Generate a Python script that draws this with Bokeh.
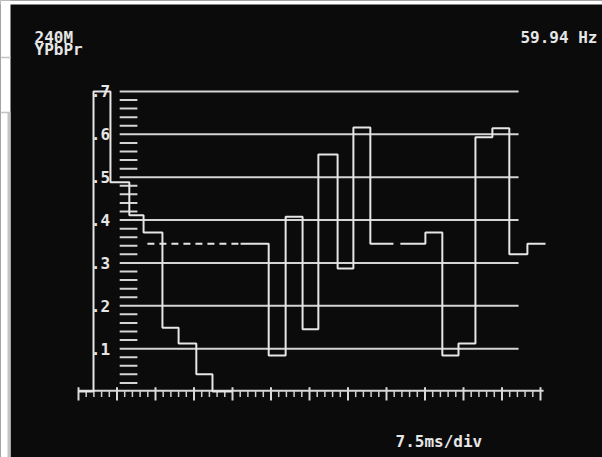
from bokeh.plotting import figure
from bokeh.models import Range1d
from bokeh.core.properties import value
from bokeh.embed import file_html
from bokeh.resources import INLINE

# ---------------- data (x in time divisions, y in volts) ----------------
grat_levels = [0.1, 0.2, 0.3, 0.4, 0.5, 0.6, 0.7]
grat_labels = [".1", ".2", ".3", ".4", ".5", ".6", ".7"]
minor_levels = [round(0.02 * i, 2) for i in range(1, 35) if i % 5 != 0]

# luma staircase: edges (divisions) and level after each edge
luma_edges = [0.39, 0.83, 1.32, 1.69, 2.18, 2.60, 3.06, 3.48]
luma_levels = [0.70, 0.488, 0.411, 0.371, 0.149, 0.112, 0.040, 0.0]

blank_level = 0.345
# Pb segment
pb_start, pb_end = 4.21, 8.18
pb_edges = [4.94, 5.38, 5.82, 6.23, 6.73, 7.14, 7.58]
pb_levels = [0.084, 0.408, 0.145, 0.553, 0.287, 0.616, 0.345]
# Pr segment
pr_start, pr_end = 8.36, 12.13
pr_edges = [9.01, 9.45, 9.87, 10.31, 10.75, 11.19, 11.66]
pr_levels = [0.371, 0.084, 0.112, 0.593, 0.614, 0.320, 0.345]

dash_start, dash_end = 1.79, 4.21

time_divs = list(range(0, 13))
time_minor = [i / 5 for i in range(0, 61) if i % 5 != 0]

# ---------------- helpers ----------------
def steps(x0, y0, edges, levels, x_end):
    xs, ys = [x0], [y0]
    cur = y0
    for e, l in zip(edges, levels):
        xs += [e, e]
        ys += [cur, l]
        cur = l
    xs.append(x_end)
    ys.append(cur)
    return xs, ys

FG = "#e6e6e6"
BG = "#0b0b0b"

W, H = 602, 457
px_div = 38.5
xmin = -78 / px_div
xmax = xmin + W / px_div
px_v = 428.6
ymax = 391 / px_v
ymin = (391 - H) / px_v

def sx(px):
    return xmin + px / px_div

def sy(py):
    return ymax - py / px_v

p = figure(width=W, height=H, output_backend="svg", toolbar_location=None,
           x_range=Range1d(xmin, xmax), y_range=Range1d(ymin, ymax),
           min_border=0, background_fill_color=BG, border_fill_color=BG,
           outline_line_color=None)
p.axis.visible = False
p.grid.visible = False

# page frame (white/grey strip at left, thin white strip on top)
p.quad(left=[sx(0), sx(0)], right=[sx(10), sx(602)], top=[sy(0), sy(0)],
       bottom=[sy(457), sy(4)], fill_color="white", line_color=None)
p.quad(left=[sx(7)], right=[sx(10)], top=[sy(112)], bottom=[sy(457)],
       fill_color="#c4c4c4", line_color=None)
p.multi_line(xs=[[sx(0), sx(10)], [sx(0), sx(10)]], ys=[[sy(57), sy(57)], [sy(112), sy(112)]],
             line_color="#c4c4c4", line_width=1.5)

# graticule horizontal lines
gx0, gx1 = 1.07, 11.43
p.multi_line(xs=[[gx0, gx1] for _ in grat_levels], ys=[[v, v] for v in grat_levels],
             line_color="#d4d4d4", line_width=2)
# minor graticule dashes
p.multi_line(xs=[[1.07, 1.53] for _ in minor_levels], ys=[[v, v] for v in minor_levels],
             line_color="#d4d4d4", line_width=2)
# vertical scale labels
p.text(x=[0.82] * len(grat_levels), y=grat_levels, text=grat_labels,
       text_color=FG, text_font=value("DejaVu Sans Mono"), text_font_style="bold",
       text_font_size="16px", text_align="right", text_baseline="middle")

# time axis comb
p.line(x=[0, 12.08], y=[0.002, 0.002], line_color="#d8d8d8", line_width=2)
p.multi_line(xs=[[t, t] for t in time_minor], ys=[[0.002, -0.013] for _ in time_minor],
             line_color="#d0d0d0", line_width=1.5)
p.multi_line(xs=[[t, t] for t in time_divs], ys=[[0.010, -0.021] for _ in time_divs],
             line_color="#d8d8d8", line_width=2)

# luma trace
lx, ly = steps(0.0, 0.0, luma_edges, luma_levels, 4.0)
p.line(x=lx, y=ly, line_color=FG, line_width=2)
# dashed blanking before Pb
p.line(x=[dash_start, dash_end], y=[blank_level, blank_level], line_color=FG,
       line_width=2, line_dash="7 5")
# Pb trace
bx, by = steps(pb_start, blank_level, pb_edges, pb_levels, pb_end)
p.line(x=bx, y=by, line_color=FG, line_width=2)
# Pr trace
rx, ry = steps(pr_start, blank_level, pr_edges, pr_levels, pr_end)
p.line(x=rx, y=ry, line_color=FG, line_width=2)

# screen texts
mono = value("DejaVu Sans Mono")
p.text(x=[sx(34)], y=[sy(37)], text=["240M"], text_color=FG, text_font=mono,
       text_font_style="bold", text_font_size="16px", text_baseline="alphabetic")
p.text(x=[sx(34)], y=[sy(49)], text=["YPbPr"], text_color=FG, text_font=mono,
       text_font_style="bold", text_font_size="16px", text_baseline="alphabetic")
p.text(x=[sx(597)], y=[sy(37)], text=["59.94 Hz"], text_color=FG, text_font=mono,
       text_font_style="bold", text_font_size="16px", text_align="right",
       text_baseline="alphabetic")
p.text(x=[sx(395)], y=[sy(441)], text=["7.5ms/div"], text_color=FG, text_font=mono,
       text_font_style="bold", text_font_size="16px", text_baseline="alphabetic")

open("out.html", "w").write(file_html(p, INLINE))
